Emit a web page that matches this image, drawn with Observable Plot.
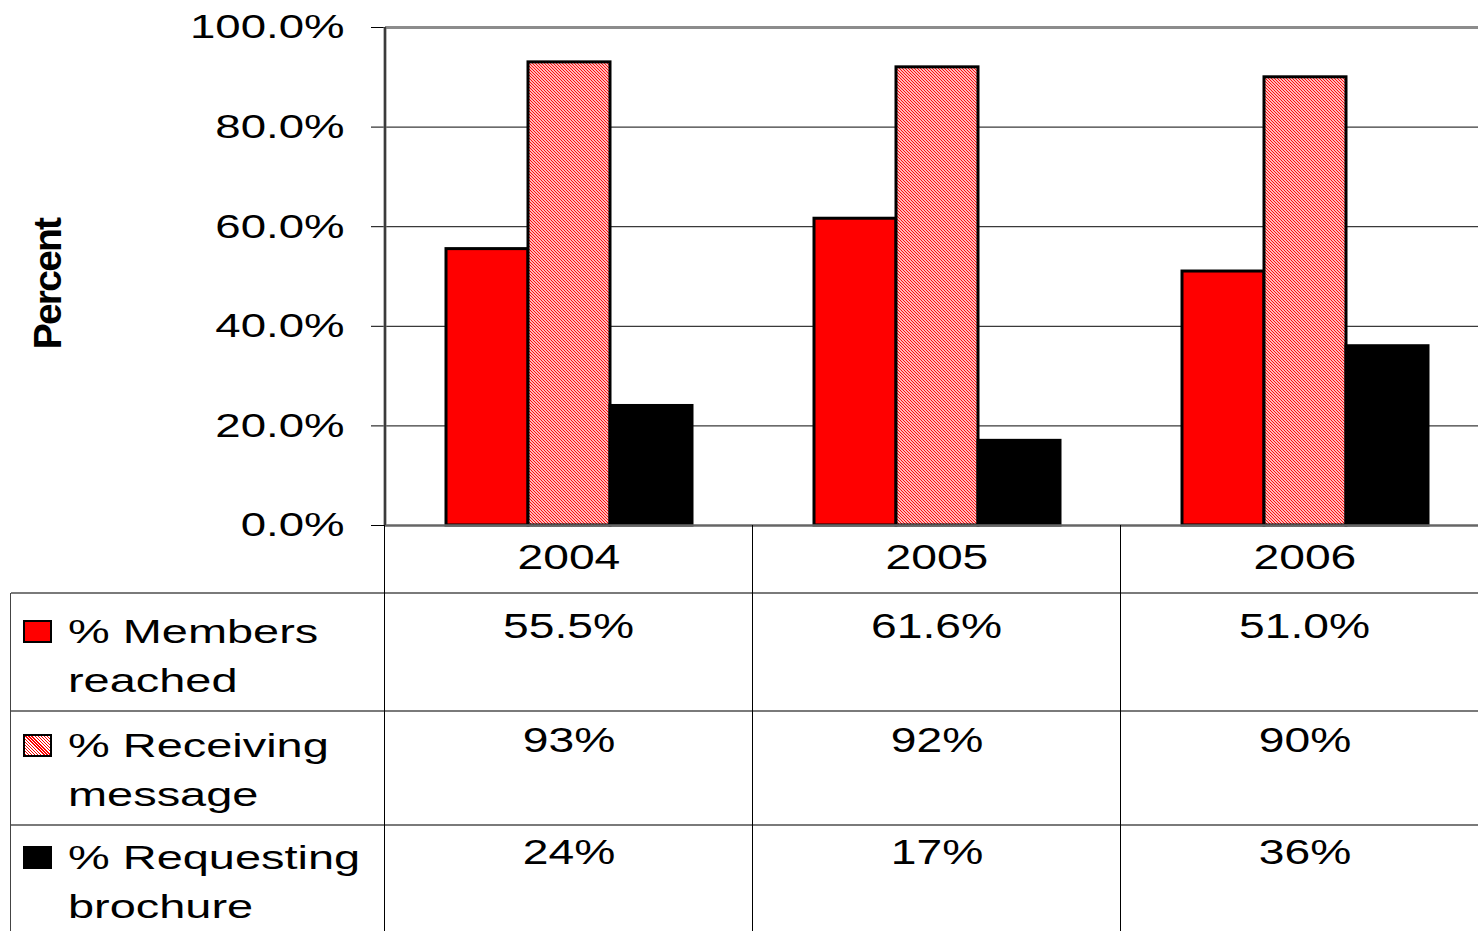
<!DOCTYPE html>
<html><head><meta charset="utf-8">
<script src="https://cdn.jsdelivr.net/npm/d3@7"></script>
<script src="https://cdn.jsdelivr.net/npm/@observablehq/plot@0.6"></script>
<style>
html,body{margin:0;padding:0;background:#fff;overflow:hidden;width:1478px;height:931px;}
#wrap{position:relative;width:1478px;height:931px;overflow:hidden;font-family:"Liberation Sans",Arial,sans-serif;color:#000;}
#chart{position:absolute;left:0;top:0;width:1490px;}
.hl{position:absolute;height:0;border-top:2px solid #7a7a7a;}
.vl{position:absolute;width:0;border-left:1.5px solid #000;}
.cell{position:absolute;text-align:center;font-size:35px;line-height:35px;white-space:nowrap;}
.cell span{display:inline-block;transform:scaleX(1.32);}
.leg{position:absolute;left:68px;font-size:34px;line-height:49px;white-space:nowrap;transform:scaleX(1.38);transform-origin:0 0;}
.sw{position:absolute;left:23px;width:25px;height:19px;border:2px solid #000;}
#ytitle{position:absolute;left:47px;top:284px;width:0;height:0;}
#ytitle span{position:absolute;left:0;top:0;font-weight:bold;font-size:39px;letter-spacing:-1.8px;white-space:nowrap;line-height:39px;transform:translate(-50%,-50%) rotate(-90deg);}
</style></head><body><div id="wrap"><div id="chart"></div></div>
<script>
// ---- data ----
const years = ["2004", "2005", "2006"];
const seriesNames = ["% Members reached", "% Receiving message", "% Requesting brochure"];
const membersReached = [0.555, 0.616, 0.510];
const receivingMessage = [0.93, 0.92, 0.90];
const requestingBrochure = [0.24, 0.17, 0.36];
const yTicks = [0, 0.2, 0.4, 0.6, 0.8, 1.0];
const legendLines = [["% Members", "reached"], ["% Receiving", "message"], ["% Requesting", "brochure"]];
const tableFormats = [".1%", ".0%", ".0%"];
const seriesColors = ["#ff0000", "url(#hatch)", "#000000"];
const swatchFills = ["#ff0000", "repeating-linear-gradient(45deg,#ff0000 0 1px,#ffffff 1px 2.2px)", "#000000"];

const seriesValues = [membersReached, receivingMessage, requestingBrochure];
const data = seriesValues.flatMap((vals, s) => years.map((year, i) => ({year, series: seriesNames[s], value: vals[i]})));

const chart = Plot.plot({
  width: 1490, height: 526,
  marginLeft: 384, marginRight: 0, marginTop: 27, marginBottom: 1,
  style: {fontFamily: "Liberation Sans, Arial, sans-serif", fontSize: "34px", background: "transparent", overflow: "visible", color: "#000", maxWidth: "none"},
  facet: {data, x: "year"},
  fx: {domain: years, padding: 0, axis: null, label: null},
  x: {domain: seriesNames, paddingInner: 0, paddingOuter: 0.74, axis: null, label: null},
  y: {domain: [0, 1], ticks: yTicks, tickFormat: d3.format(".1%"), tickSize: 14, tickPadding: 27, label: null},
  color: {type: "ordinal", domain: seriesNames, range: seriesColors},
  marks: [
    Plot.ruleY([0.2, 0.4, 0.6, 0.8], {stroke: "#3a3a3a", strokeWidth: 1.3}),
    Plot.ruleY([1], {stroke: "#8c8c8c", strokeWidth: 3}),
    Plot.barY(data, {x: "series", y: "value", fill: "series", stroke: "#000", strokeWidth: 3}),
    Plot.ruleY([0], {stroke: "#666", strokeWidth: 2.5})
  ]
});
document.getElementById("chart").appendChild(chart);
const svgEl = chart.tagName.toLowerCase() === "svg" ? chart : chart.querySelector("svg");
svgEl.style.maxWidth = "none";
const svg = d3.select(svgEl);

// hatch pattern (fine red / white diagonal)
const pat = svg.insert("defs", ":first-child").append("pattern")
  .attr("id", "hatch").attr("patternUnits", "userSpaceOnUse").attr("width", 3).attr("height", 3);
pat.append("rect").attr("width", 3).attr("height", 3).attr("fill", "#fff");
pat.append("path").attr("d", "M-1,-1L4,4M-1,2L1,4M2,-1L4,1").attr("stroke", "#ff0000").attr("stroke-width", 1.05);

// stretch tick labels horizontally (like the original)
svgEl.querySelectorAll('[aria-label^="y-axis"] text').forEach(t => {
  const x0 = +(t.getAttribute("x") || 0);
  t.setAttribute("transform", `${t.getAttribute("transform") || ""} translate(${x0},0) scale(1.34,1) translate(${-x0},0)`);
});

// vertical value axis line, from the scales
const yS = chart.scale("y");
const fxS = chart.scale("fx");
const x0 = fxS.apply(years[0]);
const bw = fxS.bandwidth;
svg.append("line").attr("x1", x0).attr("x2", x0).attr("y1", yS.apply(1)).attr("y2", yS.apply(0))
  .attr("stroke", "#777").attr("stroke-width", 3);
svg.append("line").attr("x1", x0).attr("x2", x0).attr("y1", yS.apply(1)).attr("y2", yS.apply(0))
  .attr("stroke", "#000").attr("stroke-width", 1);

// ---- data table below the chart ----
const wrap = document.getElementById("wrap");
const yBase = yS.apply(0);
const rowTops = [593, 711, 825];
const rowBottom = 931;
function add(cls, style, html) {
  const d = document.createElement("div");
  d.className = cls;
  Object.assign(d.style, style);
  if (html != null) d.innerHTML = html;
  wrap.appendChild(d);
  return d;
}
rowTops.forEach(t => add("hl", {left: "11px", top: (t - 1) + "px", width: "1480px"}));
add("vl", {left: "10px", top: rowTops[0] + "px", height: (rowBottom - rowTops[0]) + "px", borderLeftColor: "#444"});
years.forEach((y, i) => {
  const xs = fxS.apply(y);
  add("vl", {left: (xs - 0.75) + "px", top: yBase + "px", height: (rowBottom - yBase) + "px"});
  add("cell", {left: xs + "px", width: bw + "px", top: "539px"}, `<span>${y}</span>`);
});
const legBase = [643, 757, 869];
seriesValues.forEach((vals, s) => {
  const fmt = d3.format(tableFormats[s]);
  add("sw", {top: (legBase[s] - 23) + "px", background: swatchFills[s]});
  add("leg", {top: (legBase[s] - 36.3) + "px"}, legendLines[s].join("<br>"));
  years.forEach((y, i) => {
    const xs = fxS.apply(y);
    add("cell", {left: xs + "px", width: bw + "px", top: (legBase[s] - 5 - 29.6) + "px"}, `<span>${fmt(vals[i])}</span>`);
  });
});
const yt = add("", {}, "<span>Percent</span>");
yt.id = "ytitle";
</script></body></html>
